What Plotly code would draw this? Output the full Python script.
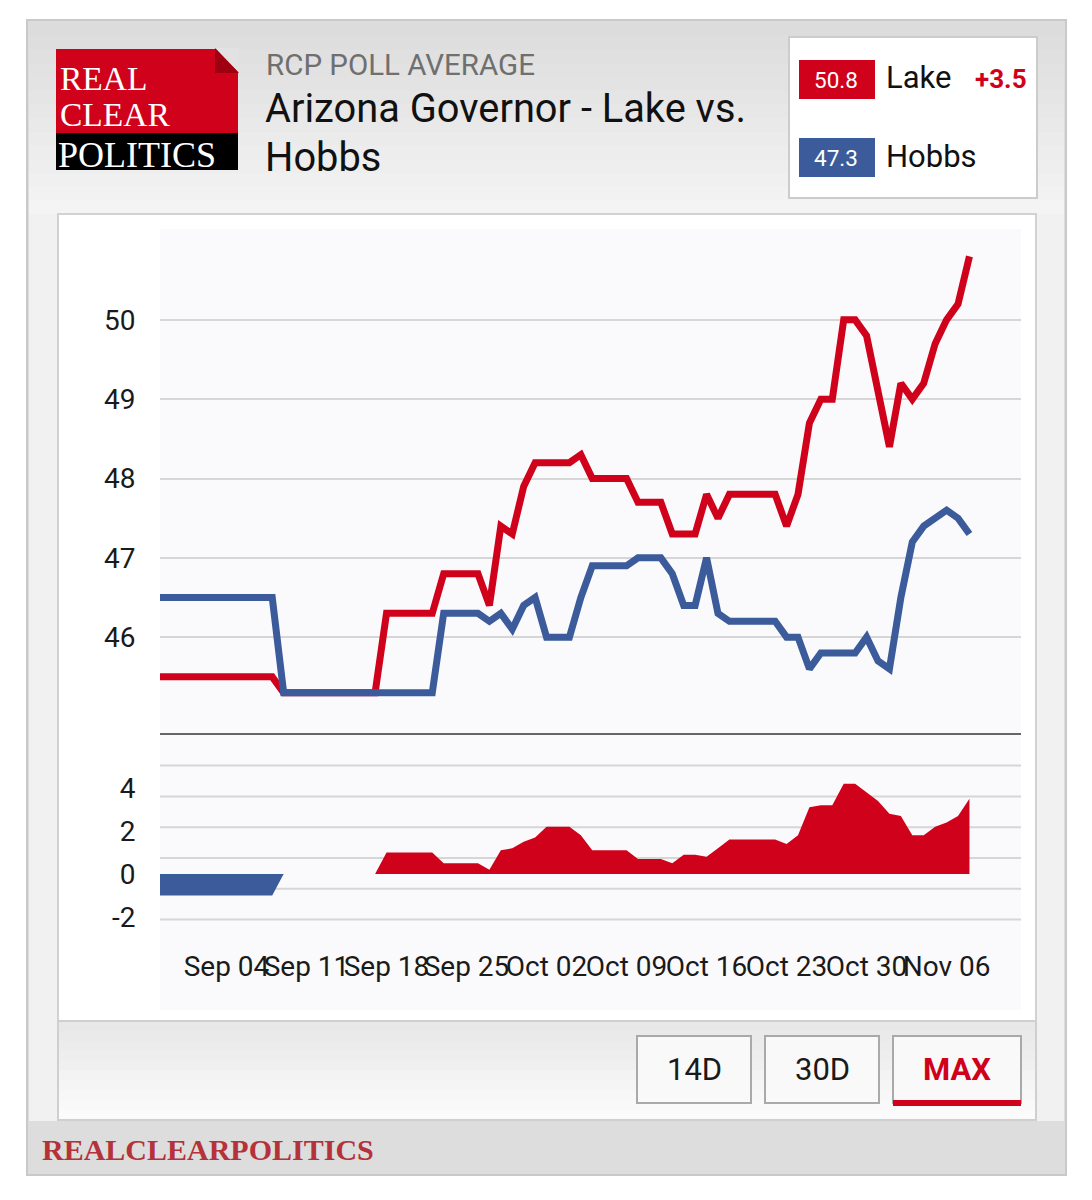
import plotly.graph_objects as go

# ---------------- data ----------------
dates = [
    "2022-08-29", "2022-08-30", "2022-08-31", "2022-09-01", "2022-09-02", "2022-09-03",
    "2022-09-04", "2022-09-05", "2022-09-06", "2022-09-07", "2022-09-08", "2022-09-09",
    "2022-09-10", "2022-09-11", "2022-09-12", "2022-09-13", "2022-09-14", "2022-09-15",
    "2022-09-16", "2022-09-17", "2022-09-18", "2022-09-19", "2022-09-20", "2022-09-21",
    "2022-09-22", "2022-09-23", "2022-09-24", "2022-09-25", "2022-09-26", "2022-09-27",
    "2022-09-28", "2022-09-29", "2022-09-30", "2022-10-01", "2022-10-02", "2022-10-03",
    "2022-10-04", "2022-10-05", "2022-10-06", "2022-10-07", "2022-10-08", "2022-10-09",
    "2022-10-10", "2022-10-11", "2022-10-12", "2022-10-13", "2022-10-14", "2022-10-15",
    "2022-10-16", "2022-10-17", "2022-10-18", "2022-10-19", "2022-10-20", "2022-10-21",
    "2022-10-22", "2022-10-23", "2022-10-24", "2022-10-25", "2022-10-26", "2022-10-27",
    "2022-10-28", "2022-10-29", "2022-10-30", "2022-10-31", "2022-11-01", "2022-11-02",
    "2022-11-03", "2022-11-04", "2022-11-05", "2022-11-06", "2022-11-07", "2022-11-08",
]

lake = [
    45.5, 45.5, 45.5, 45.5, 45.5, 45.5, 45.5, 45.5, 45.5, 45.5, 45.5,   # Aug 29 - Sep 08
    45.3, 45.3, 45.3, 45.3, 45.3, 45.3, 45.3, 45.3, 45.3,               # Sep 09 - Sep 17
    46.3, 46.3, 46.3, 46.3, 46.3,                                       # Sep 18 - Sep 22
    46.8, 46.8, 46.8, 46.8,                                             # Sep 23 - Sep 26
    46.4, 47.4, 47.3, 47.9,                                             # Sep 27 - Sep 30
    48.2, 48.2, 48.2, 48.2, 48.3,                                       # Oct 01 - Oct 05
    48.0, 48.0, 48.0, 48.0,                                             # Oct 06 - Oct 09
    47.7, 47.7, 47.7, 47.3, 47.3, 47.3,                                 # Oct 10 - Oct 15
    47.8, 47.5, 47.8, 47.8, 47.8, 47.8, 47.8,                           # Oct 16 - Oct 22
    47.4, 47.8, 48.7, 49.0, 49.0, 50.0, 50.0, 49.8, 49.1,               # Oct 23 - Oct 31
    48.4, 49.2, 49.0, 49.2, 49.7, 50.0, 50.2, 50.8,                     # Nov 01 - Nov 08
]

hobbs = [
    46.5, 46.5, 46.5, 46.5, 46.5, 46.5, 46.5, 46.5, 46.5, 46.5, 46.5,   # Aug 29 - Sep 08
    45.3, 45.3, 45.3, 45.3, 45.3, 45.3, 45.3, 45.3, 45.3,               # Sep 09 - Sep 17
    45.3, 45.3, 45.3, 45.3, 45.3,                                       # Sep 18 - Sep 22
    46.3, 46.3, 46.3, 46.3,                                             # Sep 23 - Sep 26
    46.2, 46.3, 46.1, 46.4,                                             # Sep 27 - Sep 30
    46.5, 46.0, 46.0, 46.0, 46.5,                                       # Oct 01 - Oct 05
    46.9, 46.9, 46.9, 46.9,                                             # Oct 06 - Oct 09
    47.0, 47.0, 47.0, 46.8, 46.4, 46.4,                                 # Oct 10 - Oct 15
    47.0, 46.3, 46.2, 46.2, 46.2, 46.2, 46.2,                           # Oct 16 - Oct 22
    46.0, 46.0, 45.6, 45.8, 45.8, 45.8, 45.8, 46.0, 45.7,               # Oct 23 - Oct 31
    45.6, 46.5, 47.2, 47.4, 47.5, 47.6, 47.5, 47.3,                     # Nov 01 - Nov 08
]

spread = [round(l - h, 1) for l, h in zip(lake, hobbs)]
spread_pos = [max(s, 0) for s in spread]
spread_neg = [min(s, 0) for s in spread]

main_ticks = [46, 47, 48, 49, 50]
spread_ticks = [-2, 0, 2, 4]
spread_ticktext = ["-2", "0", "2", "4"]

title_small = "RCP POLL AVERAGE"
title_line1 = "Arizona Governor - Lake vs."
title_line2 = "Hobbs"
cand_names = ["Lake", "Hobbs"]
cand_values = ["50.8", "47.3"]
lead_text = "+3.5"
buttons = ["14D", "30D", "MAX"]

# ---------------- style ----------------
W, H = 1092, 1200
RED = "#d0021b"
BLUE = "#3b5b9b"
FONT = "Roboto"
SERIF = "Liberation Serif"


def X(px):
    return px / W


def Y(py):
    return 1 - py / H


shapes = []


def rect(x0, y0, x1, y1, fill, line=None, lw=0):
    shapes.append(dict(type="rect", xref="paper", yref="paper",
                       x0=X(x0), x1=X(x1), y0=Y(y1), y1=Y(y0),
                       fillcolor=fill, line=dict(color=line or fill, width=lw),
                       layer="below"))


def poly(pts, fill):
    path = "M " + " L ".join(f"{X(a):.5f},{Y(b):.5f}" for a, b in pts) + " Z"
    shapes.append(dict(type="path", xref="paper", yref="paper", path=path,
                       fillcolor=fill, line=dict(width=0), layer="below"))


def grad(x0, y0, x1, y1, c0, c1, n=14):
    step = (y1 - y0) / n
    for i in range(n):
        t = i / (n - 1)
        c = tuple(round(a + (b - a) * t) for a, b in zip(c0, c1))
        rect(x0, y0 + i * step, x1, y0 + (i + 1) * step + 0.6, f"rgb{c}")


# frame & card
rect(27, 20, 1066, 1175, "#dddddd", "#c9c9c9", 2)
grad(29, 22, 1064, 214, (220, 220, 220), (244, 244, 244))
rect(29, 214, 1064, 1121, "#f1f1f1")
# chart box
rect(58, 214, 1036, 1021, "#ffffff", "#d2d2d2", 2)
rect(160, 229, 1021, 1010, "#fafafc")
# buttons panel
grad(58, 1021, 1036, 1120, (232, 232, 232), (251, 251, 251), n=10)
shapes.append(dict(type="rect", xref="paper", yref="paper", x0=X(58), x1=X(1036),
                   y0=Y(1120), y1=Y(1021), line=dict(color="#cfcfcf", width=2),
                   fillcolor="rgba(0,0,0,0)", layer="below"))
btn_x = [(637, 751), (765, 879), (893, 1021)]
for (a, b) in btn_x:
    rect(a, 1036, b, 1103, "#f9f9f9", "#a9a9a9", 2)
rect(893, 1100, 1021, 1106, RED)
# legend box
rect(789, 37, 1037, 198, "#ffffff", "#cccccc", 2)
rect(799, 60, 875, 99, RED)
rect(799, 138, 875, 177, BLUE)
# logo
rect(56, 49, 238, 133, RED)
rect(56, 133, 238, 170, "#000000")
poly([(215, 48), (239, 48), (239, 73)], "#e2e2e2")
poly([(215, 48), (239, 73), (215, 73)], "#9e0012")

# gridlines of the spread panel (evenly spaced, independent of labels)
G0, GSTEP = 0.744, 1.433
for k in range(-2, 4):
    g = G0 + GSTEP * k
    shapes.append(dict(type="line", xref="x2", yref="y2", x0=dates[0], x1="2022-11-13",
                       y0=g, y1=g, line=dict(color="#d6d6d6", width=2), layer="below"))

annotations = []


def ann(text, x, y, size, color, xanchor="left", family=FONT, bold=False):
    if bold:
        text = f"<b>{text}</b>"
    annotations.append(dict(text=text, x=X(x), y=Y(y), xref="paper", yref="paper",
                            xanchor=xanchor, yanchor="middle", showarrow=False,
                            font=dict(size=size, color=color, family=family)))


ann(title_small, 264, 65, 29.5, "#6f6f6f")
ann(title_line1, 263, 109, 39.8, "#111111")
ann(title_line2, 263, 157, 39.8, "#111111")
ann("REAL", 58, 79, 33.5, "#ffffff", family=SERIF)
ann("CLEAR", 58, 115, 33.5, "#ffffff", family=SERIF)
ann("POLITICS", 56, 155, 36, "#ffffff", family=SERIF)
ann(cand_values[0], 836, 80, 22.5, "#ffffff", xanchor="center")
ann(cand_values[1], 836, 158, 22.5, "#ffffff", xanchor="center")
ann(cand_names[0], 884, 78, 31, "#111111")
ann(cand_names[1], 884, 156, 31, "#111111")
ann(lead_text, 1029, 79, 26, RED, xanchor="right", bold=True)
for (a, b), t in zip(btn_x, buttons):
    if t == "MAX":
        ann(t, (a + b) / 2, 1069, 31, RED, xanchor="center", bold=True)
    else:
        ann(t, (a + b) / 2, 1069, 31, "#1a1a1a", xanchor="center")
ann("REALCLEARPOLITICS", 40, 1149, 30, "#b5323a", family=SERIF, bold=True)

# ---------------- figure ----------------
fig = go.Figure()
fig.add_trace(go.Scatter(x=dates, y=lake, mode="lines", name="Lake",
                         line=dict(color=RED, width=7), xaxis="x", yaxis="y"))
fig.add_trace(go.Scatter(x=dates, y=hobbs, mode="lines", name="Hobbs",
                         line=dict(color=BLUE, width=7), xaxis="x", yaxis="y"))
fig.add_trace(go.Scatter(x=dates, y=spread_neg, mode="lines", fill="tozeroy",
                         fillcolor=BLUE, line=dict(color=BLUE, width=0),
                         xaxis="x2", yaxis="y2"))
fig.add_trace(go.Scatter(x=dates, y=spread_pos, mode="lines", fill="tozeroy",
                         fillcolor=RED, line=dict(color=RED, width=0),
                         xaxis="x2", yaxis="y2"))

xrange = ["2022-08-29 04:20", "2022-11-12 12:15"]
xdom = [X(160), X(1021)]
tickfont = dict(family=FONT, size=28, color="#1a1a1a")

fig.update_layout(
    width=W, height=H, margin=dict(l=0, r=0, t=0, b=0),
    paper_bgcolor="#ffffff", plot_bgcolor="rgba(0,0,0,0)",
    showlegend=False, shapes=shapes, annotations=annotations,
    xaxis=dict(domain=xdom, range=xrange, anchor="y", type="date",
               showticklabels=False, showgrid=False, zeroline=False,
               showline=True, linecolor="#666666", linewidth=2, ticks=""),
    yaxis=dict(domain=[Y(733), Y(229)], range=[44.792, 51.145], anchor="x",
               tickvals=main_ticks, showgrid=True, gridcolor="#d6d6d6", gridwidth=2,
               zeroline=False, ticks="outside", ticklen=18, tickcolor="rgba(0,0,0,0)",
               tickfont=tickfont),
    xaxis2=dict(domain=xdom, range=xrange, anchor="y2", type="date",
                tick0="2022-09-04", dtick=7 * 86400000, tickformat="%b %d",
                tickangle=0, showgrid=False, zeroline=False, showline=False,
                ticks="outside", ticklen=1, tickcolor="rgba(0,0,0,0)",
                tickfont=tickfont),
    yaxis2=dict(domain=[Y(940), Y(733)], range=[-3.07, 6.558], anchor="x2",
                tickvals=spread_ticks, ticktext=spread_ticktext,
                showgrid=False, zeroline=False,
                ticks="outside", ticklen=18, tickcolor="rgba(0,0,0,0)",
                tickfont=tickfont),
)

fig.write_html("out.html")
